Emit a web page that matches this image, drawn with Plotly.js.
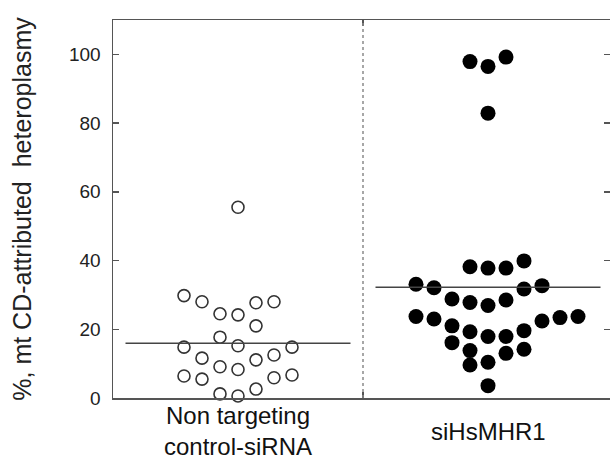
<!DOCTYPE html>
<html>
<head>
<meta charset="utf-8">
<script src="https://cdn.plot.ly/plotly-3.0.1.min.js"></script>
<style>html,body{margin:0;padding:0;background:#fff;}#chart{width:610px;height:459px;}</style>
</head>
<body>
<div id="chart"></div>
<script>
// Categories
var categories = ['Non targeting<br>control-siRNA', 'siHsMHR1'];
var categoryCenters = [0.5, 1.5];
var yTickVals = [0, 20, 40, 60, 80, 100];

// Non targeting control-siRNA: values and swarm column index
var ctrlValues = [55.5, 29.8, 28.0, 24.5, 24.2, 27.7, 28.0, 21.0, 17.7, 14.8, 15.2, 14.8,
                  11.6, 9.1, 8.3, 11.1, 12.5, 6.4, 5.5, 5.9, 6.7, 1.2, 0.6, 2.6];
var ctrlCols   = [0, -3, -2, -1, 0, 1, 2, 1, -1, -3, 0, 3,
                  -2, -1, 0, 1, 2, -3, -2, 2, 3, -1, 0, 1];

// siHsMHR1: values and swarm column index
var siValues = [97.9, 96.5, 99.2, 82.9, 38.2, 37.8, 37.8, 39.9, 33.1, 32.1, 31.7, 32.7,
                28.8, 27.8, 26.9, 28.5, 23.7, 23.0, 21.0, 19.3, 17.9, 17.9, 19.6, 22.4,
                23.4, 23.7, 16.1, 13.8, 13.0, 14.2, 9.6, 10.4, 3.6];
var siCols   = [-1, 0, 1, 0, -1, 0, 1, 2, -4, -3, 2, 3,
                -2, -1, 0, 1, -4, -3, -2, -1, 0, 1, 2, 3,
                4, 5, -2, -1, 1, 2, -1, 0, 0];

var colStep = 0.072;
function xs(center, cols) { return cols.map(function (c) { return center + c * colStep; }); }
function mean(a) { return a.reduce(function (s, v) { return s + v; }, 0) / a.length; }

var traces = [
  {
    x: xs(categoryCenters[0], ctrlCols), y: ctrlValues, type: 'scatter', mode: 'markers',
    cliponaxis: false, hoverinfo: 'y',
    marker: { symbol: 'circle', size: 12, color: '#ffffff', line: { color: '#333333', width: 1.6 } }
  },
  {
    x: xs(categoryCenters[1], siCols), y: siValues, type: 'scatter', mode: 'markers',
    cliponaxis: false, hoverinfo: 'y',
    marker: { symbol: 'circle', size: 15, color: '#000000', line: { width: 0 } }
  },
  { x: [], y: [], yaxis: 'y2', type: 'scatter', showlegend: false }
];

var means = [mean(ctrlValues), mean(siValues)];
var shapes = [
  { type: 'line', xref: 'x', yref: 'paper', x0: 1, x1: 1, y0: 0, y1: 1,
    line: { color: '#8a8a8a', width: 1.5, dash: 'dot' } }
];
means.forEach(function (m, i) {
  shapes.push({ type: 'line', xref: 'x', yref: 'y', x0: categoryCenters[i] - 0.45, x1: categoryCenters[i] + 0.45,
    y0: m, y1: m, line: { color: '#444444', width: 1.5 } });
});

var annotations = categories.map(function (c, i) {
  return { text: c, xref: 'x', yref: 'paper', x: categoryCenters[i], y: 0, yanchor: 'middle', xanchor: 'center',
    yshift: -33, showarrow: false, font: { family: 'Liberation Sans, Arial, sans-serif', size: 24, color: '#111' } };
});

var layout = {
  width: 610, height: 459,
  margin: { l: 113, r: 0, t: 20, b: 61 },
  paper_bgcolor: '#ffffff', plot_bgcolor: '#ffffff',
  showlegend: false,
  font: { family: 'Liberation Sans, Arial, sans-serif', color: '#222' },
  xaxis: {
    range: [0, 1.988], showgrid: false, zeroline: false, showline: true, mirror: 'ticks',
    linecolor: '#555', linewidth: 1.5, tickvals: [1], ticks: 'inside', ticklen: 6, tickwidth: 1.5,
    tickcolor: '#555', showticklabels: false, fixedrange: true
  },
  yaxis: {
    range: [0, 110], tickvals: yTickVals, ticks: 'inside', ticklen: 6, tickwidth: 1.5, tickcolor: '#555',
    showgrid: false, zeroline: false, showline: true, linecolor: '#555', linewidth: 1.5,
    tickfont: { size: 19, color: '#222' }, ticklabelstandoff: 7,
    title: { text: '%, mt CD-attributed\u00a0\u00a0heteroplasmy', standoff: 30,
             font: { size: 25, color: '#222' } }
  },
  yaxis2: {
    overlaying: 'y', side: 'right', matches: 'y', range: [0, 110], tickvals: yTickVals,
    ticks: 'inside', ticklen: 6, tickwidth: 1.5, tickcolor: '#555', showticklabels: false,
    showgrid: false, zeroline: false, showline: false
  },
  shapes: shapes,
  annotations: annotations
};

Plotly.newPlot('chart', traces, layout, { displayModeBar: false, staticPlot: true });
</script>
</body>
</html>
